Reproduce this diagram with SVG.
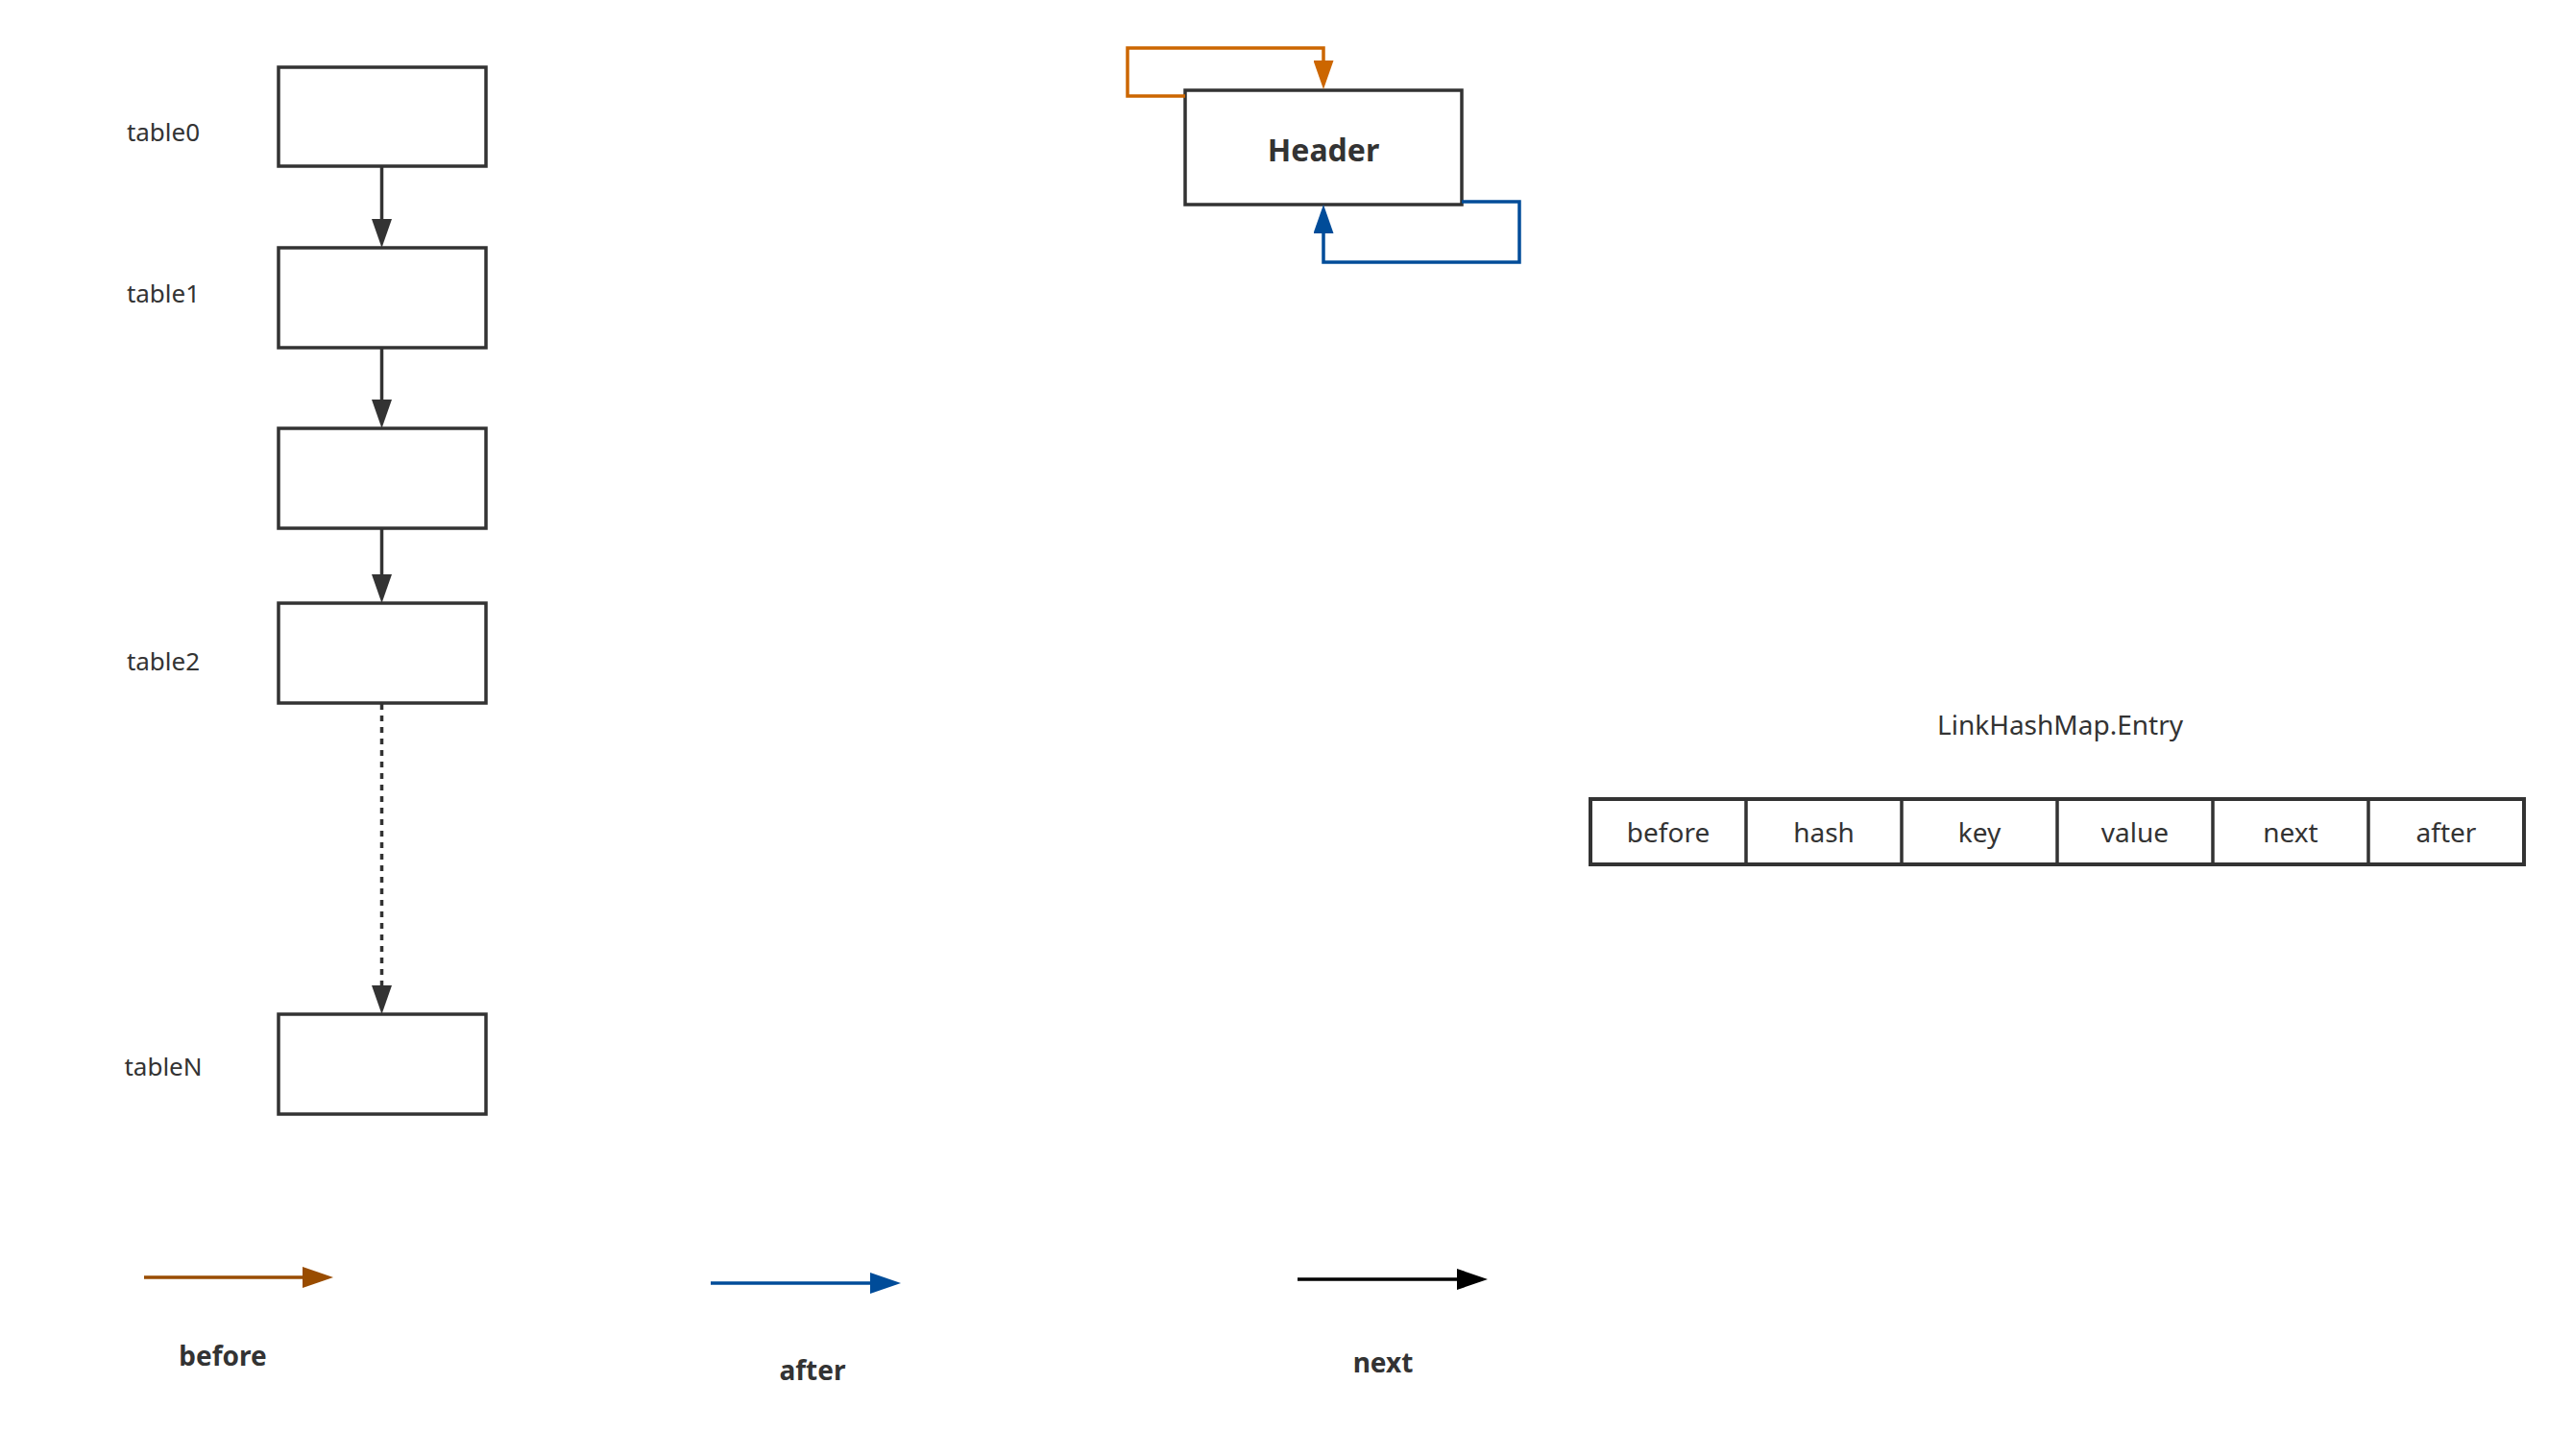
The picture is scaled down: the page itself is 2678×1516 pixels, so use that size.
<svg xmlns="http://www.w3.org/2000/svg" width="2678" height="1516" viewBox="0 0 2678 1516">
<style>
text{font-family:"Noto Sans","Open Sans","Liberation Sans",sans-serif;fill:#333;}
.lbl{font-size:26px;text-anchor:middle;}
.cell{font-size:28px;text-anchor:middle;}
.leg{font-size:28px;font-weight:bold;text-anchor:middle;}
.box{fill:#fff;stroke:#333;stroke-width:3.5;}
.con{fill:none;stroke-width:3.5;}
</style>
<defs>
<marker id="aDark" viewBox="0 0 30 21" refX="22" refY="10.5" markerWidth="30" markerHeight="21" markerUnits="userSpaceOnUse" orient="auto"><path d="M0,0 L30,10.5 L0,21 Z" fill="#333"/></marker>
<marker id="aOrange" viewBox="0 0 30 21" refX="22" refY="10.5" markerWidth="30" markerHeight="21" markerUnits="userSpaceOnUse" orient="auto"><path d="M0,0 L30,10.5 L0,21 Z" fill="#CC6600"/></marker>
<marker id="aBlue" viewBox="0 0 30 21" refX="22" refY="10.5" markerWidth="30" markerHeight="21" markerUnits="userSpaceOnUse" orient="auto"><path d="M0,0 L30,10.5 L0,21 Z" fill="#004C99"/></marker>
<marker id="aBrown" viewBox="0 0 32 22" refX="24" refY="11" markerWidth="32" markerHeight="22" markerUnits="userSpaceOnUse" orient="auto"><path d="M0,0 L32,11 L0,22 Z" fill="#994C00"/></marker>
<marker id="aBlue2" viewBox="0 0 32 22" refX="24" refY="11" markerWidth="32" markerHeight="22" markerUnits="userSpaceOnUse" orient="auto"><path d="M0,0 L32,11 L0,22 Z" fill="#004C99"/></marker>
<marker id="aBlack" viewBox="0 0 32 22" refX="24" refY="11" markerWidth="32" markerHeight="22" markerUnits="userSpaceOnUse" orient="auto"><path d="M0,0 L32,11 L0,22 Z" fill="#000"/></marker>
</defs>

<g id="table0"><rect class="box" x="290" y="70" width="216" height="103"/><text class="lbl" x="170" y="147">table0</text></g>
<g id="table1"><rect class="box" x="290" y="258" width="216" height="104"/><text class="lbl" x="170" y="315">table1</text></g>
<g id="table_mid"><rect class="box" x="290" y="446" width="216" height="104"/></g>
<g id="table2"><rect class="box" x="290" y="628" width="216" height="104"/><text class="lbl" x="170" y="698">table2</text></g>
<g id="tableN"><rect class="box" x="290" y="1056" width="216" height="104"/><text class="lbl" x="170" y="1120">tableN</text></g>

<g id="header"><rect class="box" x="1234" y="94" width="288" height="119"/><text x="1378" y="168" style="font-size:32px;font-weight:bold;text-anchor:middle">Header</text></g>

<g id="entry-title"><text x="2145" y="765" style="font-size:28px;text-anchor:middle">LinkHashMap.Entry</text></g>
<g id="entry">
<rect x="1656" y="832" width="972" height="68" fill="#fff" stroke="#333" stroke-width="4"/>
<path d="M1818,832 V900 M1980,832 V900 M2142,832 V900 M2304,832 V900 M2466,832 V900" stroke="#333" stroke-width="3.5" fill="none"/>
<text class="cell" x="1737" y="877">before</text>
<text class="cell" x="1899" y="877">hash</text>
<text class="cell" x="2061" y="877">key</text>
<text class="cell" x="2223" y="877">value</text>
<text class="cell" x="2385" y="877">next</text>
<text class="cell" x="2547" y="877">after</text>
</g>

<g id="connectors">
<path class="con" stroke="#333" d="M397.5,173 V250" marker-end="url(#aDark)"/>
<path class="con" stroke="#333" d="M397.5,362 V438" marker-end="url(#aDark)"/>
<path class="con" stroke="#333" d="M397.5,550 V620" marker-end="url(#aDark)"/>
<path class="con" stroke="#333" stroke-dasharray="6 6" d="M397.5,733 V1048" marker-end="url(#aDark)"/>
<path class="con" stroke="#CC6600" d="M1234,100 H1174 V50 H1378 V85" marker-end="url(#aOrange)"/>
<path class="con" stroke="#004C99" d="M1522,210 H1582 V273 H1378 V221" marker-end="url(#aBlue)"/>
</g>

<g id="legend-before"><path class="con" stroke="#994C00" stroke-width="4" d="M150,1330 H339" marker-end="url(#aBrown)"/><text class="leg" x="232" y="1422">before</text></g>
<g id="legend-after"><path class="con" stroke="#004C99" stroke-width="4" d="M740,1336 H930" marker-end="url(#aBlue2)"/><text class="leg" x="846" y="1437">after</text></g>
<g id="legend-next"><path class="con" stroke="#000" stroke-width="4" d="M1351,1332 H1541" marker-end="url(#aBlack)"/><text class="leg" x="1440" y="1429">next</text></g>
</svg>
